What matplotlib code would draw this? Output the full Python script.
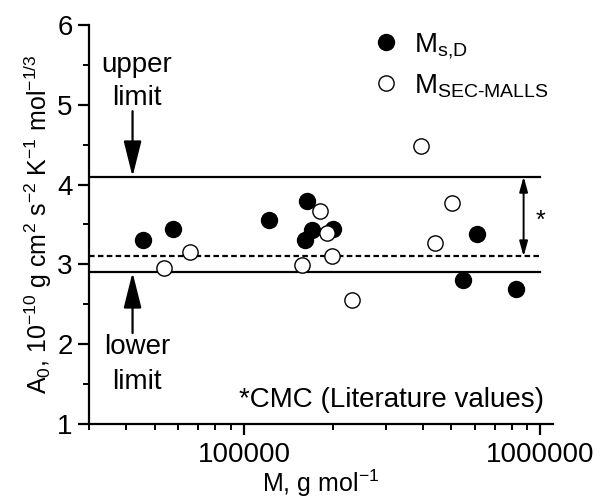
import numpy as np
import matplotlib
matplotlib.use("Agg")
import matplotlib.pyplot as plt
from matplotlib.ticker import FixedLocator, NullFormatter

plt.rcParams["font.family"] = ["Liberation Sans", "DejaVu Sans"]
plt.rcParams["mathtext.fontset"] = "custom"
plt.rcParams["mathtext.rm"] = "Liberation Sans"
plt.rcParams["mathtext.it"] = "Liberation Sans"

# Ms,D values
m_sd = [45500, 57700, 121700, 163000, 170000, 198800, 160000, 611000, 546000, 826000]
a_sd = [3.31, 3.44, 3.56, 3.79, 3.43, 3.44, 3.30, 3.38, 2.81, 2.69]

# M SEC-MALLS values
m_sec = [396000, 502000, 180000, 191000, 440000, 65700, 53800, 156700, 197600, 231600]
a_sec = [4.48, 3.77, 3.67, 3.39, 3.27, 3.16, 2.95, 2.99, 3.10, 2.55]

upper_limit = 4.1
lower_limit = 2.9
cmc_value = 3.1

fig = plt.figure(figsize=(5.95, 5.0), dpi=100)
ax = fig.add_axes([0.15, 0.152, 0.779, 0.798])

ax.set_xscale("log")
ax.set_xlim(30000, 1.1e6)
ax.set_ylim(1, 6)

# limit lines
ax.plot([30000, 1e6], [upper_limit, upper_limit], color="black", lw=1.6)
ax.plot([30000, 1e6], [lower_limit, lower_limit], color="black", lw=1.6)
ax.plot([30000, 1e6], [cmc_value, cmc_value], color="black", lw=1.6, ls=(0, (2.5, 1.5)))

ax.plot(m_sd, a_sd, "o", color="black", ms=11.5, zorder=3, label=r"M$_\mathregular{s{,}D}$")
ax.plot(m_sec, a_sec, "o", mfc="white", mec="black", mew=1.0, ms=11, zorder=3,
        label=r"M$_\mathregular{SEC\text{-}MALLS}$")

# arrows
head = "-|>,head_length=2.2,head_width=0.55"
ax.annotate("", xy=(42000, upper_limit), xytext=(42000, 4.92),
            arrowprops=dict(arrowstyle=head, color="black", lw=1.6, shrinkA=0, shrinkB=0))
ax.annotate("", xy=(42000, lower_limit), xytext=(42000, 2.14),
            arrowprops=dict(arrowstyle=head, color="black", lw=1.6, shrinkA=0, shrinkB=0))
ax.text(43500, 5.5, "upper", fontsize=20, ha="center", va="center")
ax.text(43500, 5.08, "limit", fontsize=20, ha="center", va="center")
ax.text(43500, 1.96, "lower", fontsize=20, ha="center", va="center")
ax.text(43500, 1.53, "limit", fontsize=20, ha="center", va="center")

ax.annotate("", xy=(877000, upper_limit), xytext=(877000, cmc_value),
            arrowprops=dict(arrowstyle="<|-|>,head_length=0.9,head_width=0.25", color="black", lw=1.4,
                            shrinkA=0, shrinkB=0))
ax.text(1.0e6, 3.55, "*", fontsize=18, ha="center", va="center")

ax.text(1.03e6, 1.3, "*CMC (Literature values)", fontsize=20, ha="right", va="center")

leg = ax.legend(loc="upper left", bbox_to_anchor=(0.58, 1.012), frameon=False, fontsize=20,
                handletextpad=0.4, labelspacing=0.4, handlelength=1.2, borderaxespad=0)

for s in ["top", "right"]:
    ax.spines[s].set_visible(False)
for s in ["left", "bottom"]:
    ax.spines[s].set_linewidth(1.6)

ax.set_yticks([1, 2, 3, 4, 5, 6])
ax.yaxis.set_minor_locator(FixedLocator(np.arange(1.5, 6, 1.0)))
ax.set_xticks([100000, 1000000])
ax.set_xticklabels(["100000", "1000000"])
minor_x = [k * 10 ** e for e in (4, 5) for k in range(2, 10)] + [1e6]
ax.xaxis.set_minor_locator(FixedLocator([v for v in minor_x if 30000 <= v <= 1.1e6]))
ax.xaxis.set_minor_formatter(NullFormatter())
ax.tick_params(which="major", direction="out", length=8, width=1.6, labelsize=20, pad=4)
ax.tick_params(axis="x", which="major", pad=5)
ax.tick_params(which="minor", direction="out", length=4, width=1.4)

ax.set_xlabel(r"M, g mol$^{-1}$", fontsize=18, labelpad=0)
ax.set_ylabel(r"A$_0$, 10$^{-10}$ g cm$^2$ s$^{-2}$ K$^{-1}$ mol$^{-1/3}$", fontsize=18, labelpad=2)

fig.savefig("out.png", dpi=100)
